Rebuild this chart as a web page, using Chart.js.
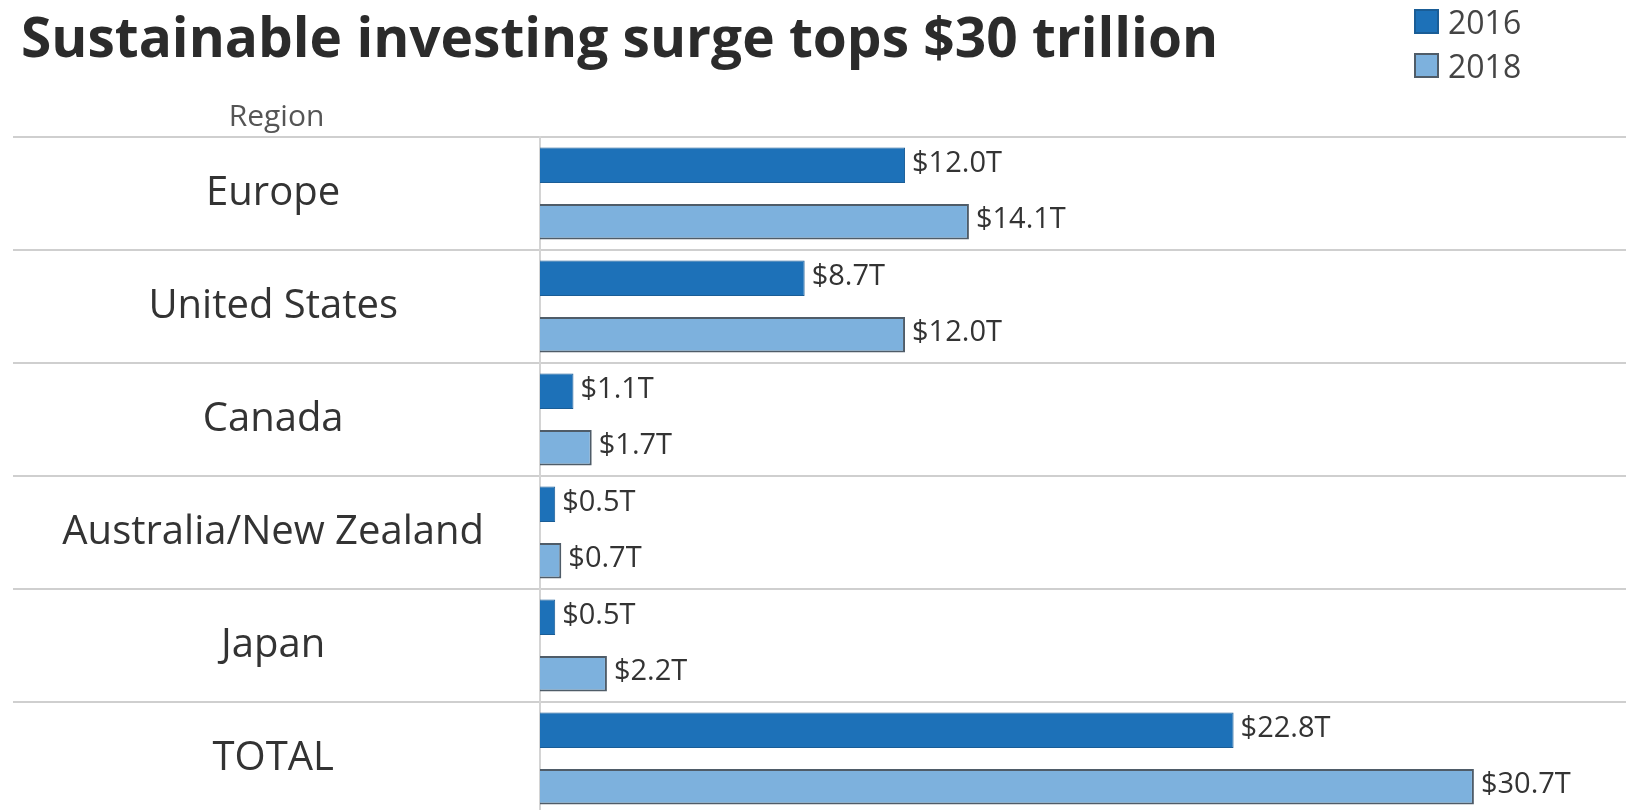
<!DOCTYPE html>
<html>
<head>
<meta charset="utf-8">
<script src="https://cdn.jsdelivr.net/npm/chart.js@4"></script>
<style>
  html, body { margin: 0; padding: 0; background: #fff; overflow: hidden; }
  #wrap { position: relative; width: 1626px; height: 810px; overflow: hidden; }
  #chart { position: absolute; left: 0; top: 0; }
  .title { position: absolute; left: 21px; top: -2px; font: 700 55px "Open Sans", sans-serif; color: #2b2b2b; white-space: nowrap; letter-spacing: 0px; }
  .region { position: absolute; left: 13px; width: 527px; top: 94px; text-align: center; font: 30px "Open Sans", sans-serif; color: #555; }
  .legend { position: absolute; left: 1414px; top: -1px; font: 32px "Open Sans", sans-serif; color: #444; }
  .legend div { height: 44px; display: flex; align-items: center; }
  .legend span { display: inline-block; width: 25px; height: 25px; margin-right: 9px; box-sizing: border-box; }
</style>
</head>
<body>
<div id="wrap">
  <canvas id="chart" width="1626" height="830"></canvas>
  <div class="title">Sustainable investing surge tops $30 trillion</div>
  <div class="region">Region</div>
  <div class="legend" id="legend"></div>
</div>
<script>
// values in trillions of dollars
const regions = ['Europe', 'United States', 'Canada', 'Australia/New Zealand', 'Japan', 'TOTAL'];
const years = ['2016', '2018'];
const values2016 = [12.0, 8.7, 1.1, 0.5, 0.5, 22.8];
const values2018 = [14.1, 12.0, 1.7, 0.7, 2.2, 30.7];

const fills = ['#1d71b8', '#7db1dd'];
const borders = ['#1a5d96', '#4f5c68'];

// small labels at the end of each bar
const barLabels = {
  id: 'barLabels',
  afterDatasetsDraw(chart) {
    const ctx = chart.ctx;
    ctx.save();
    ctx.font = '29px "Open Sans", sans-serif';
    ctx.fillStyle = '#333';
    ctx.textAlign = 'left';
    ctx.textBaseline = 'middle';
    chart.data.datasets.forEach((ds, i) => {
      chart.getDatasetMeta(i).data.forEach((bar, j) => {
        ctx.fillText('$' + ds.data[j].toFixed(1) + 'T', bar.x + 7, bar.y - 2);
      });
    });
    ctx.restore();
  }
};

const chart = new Chart(document.getElementById('chart'), {
  type: 'bar',
  data: {
    labels: regions,
    datasets: [
      { label: years[0], data: values2016, backgroundColor: fills[0], borderColor: borders[0], borderWidth: 1 },
      { label: years[1], data: values2018, backgroundColor: fills[1], borderColor: borders[1], borderWidth: 2 }
    ]
  },
  options: {
    indexAxis: 'y',
    responsive: false,
    animation: false,
    categoryPercentage: 1.0,
    barPercentage: 0.63,
    layout: { padding: { top: 137, left: 13, right: 0, bottom: 15 } },
    plugins: {
      legend: { display: false },
      tooltip: { enabled: false }
    },
    scales: {
      x: {
        display: false,
        min: 0,
        max: 35.7
      },
      y: {
        grid: {
          offset: true,
          color: '#cfcfcf',
          lineWidth: 2,
          drawTicks: true,
          tickLength: 527
        },
        border: { display: true, color: '#d4d4d4', width: 2 },
        ticks: {
          crossAlign: 'center',
          padding: -471,
          color: '#333',
          font: { family: 'Open Sans', size: 40 }
        },
        afterFit(scale) { scale.width = 527; }
      }
    }
  },
  plugins: [barLabels]
});

// html legend from the datasets
document.getElementById('legend').innerHTML = chart.data.datasets.map(ds =>
  '<div><span style="background:' + ds.backgroundColor + ';border:2px solid ' + ds.borderColor + '"></span>' + ds.label + '</div>'
).join('');
</script>
</body>
</html>
